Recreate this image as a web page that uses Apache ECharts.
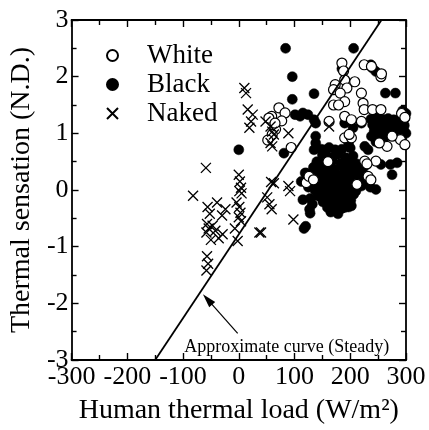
<!DOCTYPE html>
<html>
<head>
<meta charset="utf-8">
<script src="https://cdn.jsdelivr.net/npm/echarts@6/dist/echarts.min.js"></script>
<style>html,body{margin:0;padding:0;background:#fff}#c{width:429px;height:430px}</style>
</head>
<body>
<div id="c"></div>
<script>
const xTicks = [-300, -200, -100, 0, 100, 200, 300];
const yTicks = [-3, -2, -1, 0, 1, 2, 3];
const seriesNames = ['White', 'Black', 'Naked'];

const white = [
  [59,1.30],[72,1.45],[83,1.36],[54,1.27],[66,1.07],[60,0.98],[94,0.75],[77,1.22],[65,1.18],[52,0.88],
  [185,2.24],[188,2.10],[225,2.21],[238,2.18],[255,2.00],[256,2.05],
  [173,1.86],[170,1.77],[190,1.94],[208,1.91],[194,1.80],[182,1.71],[190,1.56],[220,1.71],[223,1.53],[170,1.50],[179,1.50],[225,1.42],[240,1.42],[255,1.42],
  [162,1.21],[190,1.30],[202,1.24],[220,1.21],[292,1.35],[298,1.28],
  [190,0.92],[202,0.92],[198,0.98],[290,0.89],[298,0.80],[266,0.77],[252,0.83],[275,0.95],
  [226,0.51],[246,0.51],[230,0.46],[232,0.24],[237,0.18],
  [121,0.13],[126,0.24],[134,0.18],[160,0.50],[212,0.10]
];

const black = [
  [84,2.50],[206,2.50],[96,2.00],[96,1.60],[135,1.70],[0,0.71],[81,0.65],
  [101,1.33],[115,1.36],[124,1.33],[135,1.24],[138,1.18],[110,1.30],
  [135,0.71],[138,0.95],[138,0.83],[156,0.71],[173,0.71],[197,0.83],[226,0.77],[232,0.71],
  [185,2.14],[237,2.21],[240,2.15],[246,2.09],[263,1.71],[281,1.71],
  [255,0.45],[272,0.45],[284,0.48],[275,0.27],[246,0.01],[220,0.07],[232,0.13],
  [119,0.30],[121,0.30],[115,-0.17],[127,-0.34],[128,-0.41],[117,-0.68],[120,-0.64],
  [188,-0.28],[190,-0.31],[202,-0.28],
  [190,1.18],[220,1.18],[205,1.10],
  [237,1.25],[248,1.27],[258,1.25],[268,1.26],[278,1.24],[288,1.25],[298,1.27],[300,1.35],[294,1.40],
  [240,1.15],[252,1.14],[263,1.13],[275,1.15],[286,1.12],[297,1.14],
  [243,1.05],[256,1.03],[270,1.05],[284,1.03],[296,1.05],
  [238,0.95],[250,0.94],[262,0.97],[278,0.96],[290,0.98],[300,1.00],[246,0.85],[260,0.90],
  [148,0.72],[162,0.75],[185,0.72],[200,0.74],
  [150,0.62],[163,0.58],[178,0.63],[192,0.57],[205,0.60],
  [140,0.50],[153,0.48],[168,0.52],[183,0.47],[198,0.50],[212,0.46],
  [134,0.40],[147,0.38],[159,0.42],[171,0.37],[186,0.41],[199,0.36],[211,0.39],[224,0.40],
  [138,0.30],[151,0.28],[164,0.31],[176,0.27],[190,0.30],[204,0.26],[216,0.29],[225,0.25],
  [135,0.19],[146,0.21],[158,0.17],[171,0.20],[183,0.18],[196,0.21],[207,0.16],[219,0.19],
  [112,0.15],[125,0.05],[141,0.09],[153,0.11],[166,0.08],[178,0.10],[191,0.07],[202,0.11],[214,0.08],[236,0.05],
  [137,-0.01],[149,0.02],[161,-0.02],[173,0.01],[186,-0.03],[198,0.00],[210,-0.02],
  [128,-0.15],[143,-0.11],[156,-0.09],[168,-0.12],[181,-0.10],[194,-0.13],[206,-0.08],
  [132,-0.25],[151,-0.21],[163,-0.19],[176,-0.22],[189,-0.20],[201,-0.18],
  [159,-0.31],[171,-0.29],[184,-0.33],[197,-0.30],
  [165,-0.39],[178,-0.42]
];

const naked = [
  [-82,-0.10],[-59,0.39],
  [0,0.27],[2,0.15],[4,0.04],[1,-0.02],[5,-0.06],
  [-4,-0.22],[1,-0.30],[3,-0.40],[0,-0.48],[4,-0.55],
  [-39,-0.22],[-56,-0.30],[-52,-0.42],[-24,-0.34],[-30,-0.45],
  [-57,-0.60],[-54,-0.68],[-58,-0.75],[-47,-0.63],[-42,-0.72],[-36,-0.85],[-29,-0.78],[-50,-0.88],
  [-7,-0.68],[-2,-0.90],
  [-57,-1.17],[-55,-1.30],[-58,-1.42],
  [37,-0.75],
  [10,1.80],[13,1.71],[16,1.42],[25,1.33],[22,1.21],[19,1.10],[48,1.21],[57,1.12],[60,1.03],[63,0.98],[57,0.83],[60,0.77],[89,1.00],
  [58,0.14],[63,0.12],[89,0.07],[92,-0.02],[51,-0.13],[55,-0.25],[59,-0.34],[98,-0.52],[40,-0.75],
  [162,1.12]
];

const curve = [[-150,-3],[256,3]];
const arrowFrom = [-2,-2.53];
const arrowTo = [-56,-1.93];
const noteAt = [86,-2.77];
const noteText = 'Approximate curve (Steady)';
const xTitle = 'Human thermal load (W/m²)';
const yTitle = 'Thermal sensation (N.D.)';

const FONT = '"Liberation Serif", "Times New Roman", serif';
const chart = echarts.init(document.getElementById('c'), null, {renderer: 'canvas'});

function axisCommon(pos, showLabel) {
  return {
    type: 'value', position: pos,
    axisLine: {show: true, onZero: false, lineStyle: {color: '#000', width: 1.8}},
    axisTick: {show: true, inside: true, length: 7, lineStyle: {color: '#000', width: 1.4}},
    minorTick: {show: true, splitNumber: 2, length: 5, lineStyle: {color: '#000', width: 1.4}},
    splitLine: {show: false},
    axisLabel: {show: showLabel, color: '#000', fontFamily: FONT, fontSize: 26, margin: 4}
  };
}

const xB = Object.assign(axisCommon('bottom', true), {
  min: xTicks[0], max: xTicks[xTicks.length-1], interval: 100,
  name: xTitle, nameLocation: 'middle', nameGap: 37,
  nameTextStyle: {color: '#000', fontFamily: FONT, fontSize: 28}
});
const xT = Object.assign(axisCommon('top', false), {min: xTicks[0], max: xTicks[xTicks.length-1], interval: 100});
const yL = Object.assign(axisCommon('left', true), {
  min: yTicks[0], max: yTicks[yTicks.length-1], interval: 1,
  name: yTitle, nameLocation: 'middle', nameGap: 26,
  nameTextStyle: {color: '#000', fontFamily: FONT, fontSize: 28}
});
yL.axisLabel.margin = 3;
const yR = Object.assign(axisCommon('right', false), {min: yTicks[0], max: yTicks[yTicks.length-1], interval: 1});

const crossPath = 'path://M0,0L10,10M10,0L0,10';

chart.setOption({
  animation: false,
  backgroundColor: '#fff',
  grid: {left: 62, right: 23, top: 20, bottom: 69, containLabel: false},
  xAxis: [xB, xT],
  yAxis: [yL, yR],
  legend: {
    orient: 'vertical', left: 101, top: 37, itemWidth: 11, itemHeight: 11, itemGap: 2,
    data: seriesNames,
    textStyle: {color: '#000', fontFamily: FONT, fontSize: 27, padding: [0,0,0,24]}
  },
  series: [
    {name: 'Black', type: 'scatter', data: black, symbol: 'circle', symbolSize: 10,
     itemStyle: {color: '#000', borderColor: '#000', borderWidth: 0.5, opacity: 1}, z: 2},
    {name: 'White', type: 'scatter', data: white, symbol: 'circle', symbolSize: 10,
     itemStyle: {color: '#fff', borderColor: '#000', borderWidth: 1.2, opacity: 1}, z: 3},
    {name: 'Naked', type: 'scatter', data: naked, symbol: crossPath, symbolSize: 10,
     itemStyle: {color: 'rgba(0,0,0,0)', borderColor: '#000', borderWidth: 1.3, opacity: 1}, z: 4},
    {name: 'curve', type: 'line', data: curve, showSymbol: false, symbol: 'none',
     lineStyle: {color: '#000', width: 1.8}, z: 5,
     markLine: {
       silent: true, animation: false,
       symbol: ['none', 'triangle'], symbolSize: 12,
       label: {show: false},
       lineStyle: {color: '#000', width: 1.2, type: 'solid'},
       itemStyle: {color: '#000'},
       data: [[{coord: arrowFrom}, {coord: arrowTo, symbol: 'triangle', symbolSize: [8, 14]}]]
     },
     markPoint: {
       silent: true, animation: false,
       symbol: 'rect', symbolSize: 1, itemStyle: {color: 'rgba(0,0,0,0)'},
       label: {show: true, position: 'inside', color: '#000', fontFamily: FONT, fontSize: 18, formatter: noteText},
       data: [{coord: noteAt}]
     }
    }
  ]
});
</script>
</body>
</html>
